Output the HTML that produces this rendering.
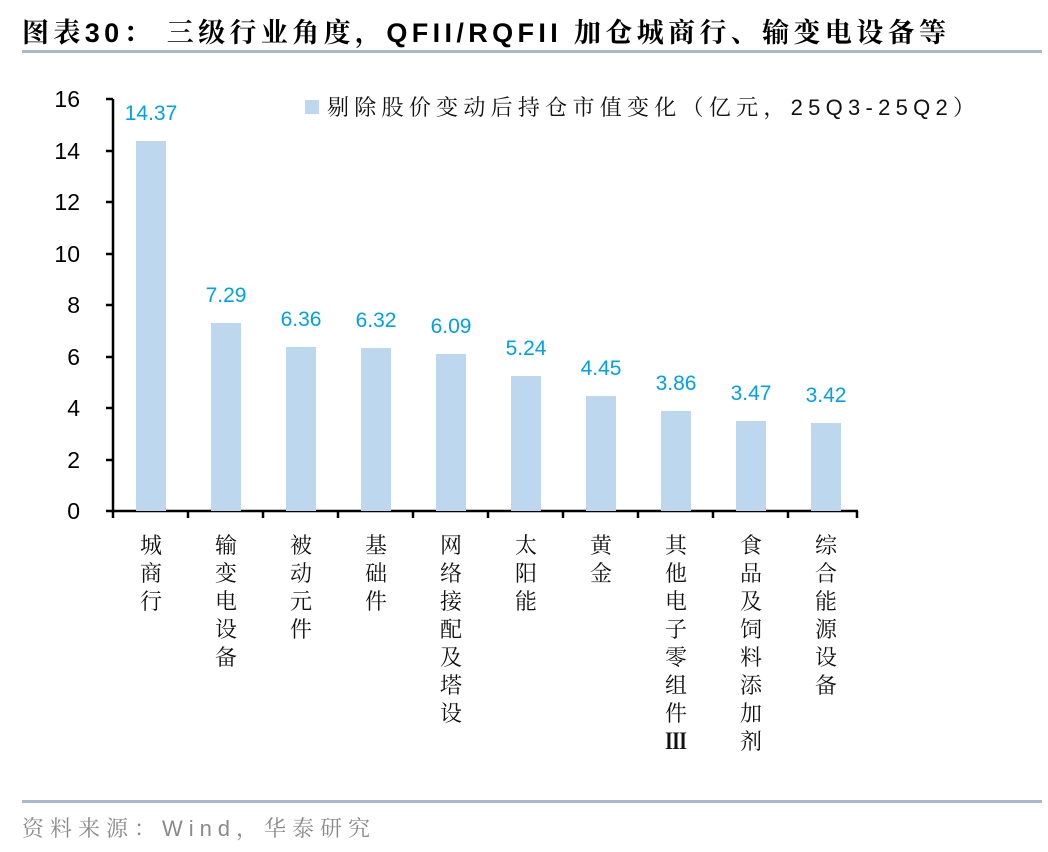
<!DOCTYPE html>
<html><head><meta charset="utf-8"><style>
body{margin:0;background:#fff;}
svg{display:block}
.cj{font-family:"Noto Serif CJK SC","Liberation Serif",serif;font-size:22px;fill:#111}
.num{font-family:"Liberation Sans",sans-serif;font-size:21px}
</style></head><body>
<svg width="1048" height="852" viewBox="0 0 1048 852">
<text x="22" y="42" font-family="Liberation Sans,'Noto Serif CJK SC',serif" font-size="27" font-weight="bold" fill="#000" textLength="924" lengthAdjust="spacing">图表30：  三级行业角度，QFII/RQFII 加仓城商行、输变电设备等</text>
<rect x="22" y="50" width="1020" height="3" fill="#a9b9cc"/>
<rect x="22" y="800" width="1020" height="3" fill="#a9b9cc"/>
<text x="22" y="836" font-family="Liberation Sans,'Noto Serif CJK SC',serif" font-size="22" fill="#8a8a8a" textLength="348" lengthAdjust="spacing">资料来源：Wind，华泰研究</text>
<g font-family="Liberation Sans,sans-serif" font-size="23" fill="#000" text-anchor="end">
<text x="80" y="107">16</text><text x="80" y="159">14</text><text x="80" y="210">12</text><text x="80" y="262">10</text><text x="80" y="313">8</text><text x="80" y="365">6</text><text x="80" y="416">4</text><text x="80" y="468">2</text><text x="80" y="519">0</text>
</g>
<g stroke="#000" stroke-width="2.5" fill="none">
<line x1="113" y1="99" x2="113" y2="512"/>
<line x1="106" y1="99" x2="113" y2="99"/><line x1="106" y1="151" x2="113" y2="151"/><line x1="106" y1="202" x2="113" y2="202"/><line x1="106" y1="254" x2="113" y2="254"/><line x1="106" y1="305" x2="113" y2="305"/><line x1="106" y1="357" x2="113" y2="357"/><line x1="106" y1="408" x2="113" y2="408"/><line x1="106" y1="460" x2="113" y2="460"/>
<line x1="106" y1="511" x2="858" y2="511"/>
<line x1="113" y1="511" x2="113" y2="518"/><line x1="188" y1="511" x2="188" y2="518"/><line x1="263" y1="511" x2="263" y2="518"/><line x1="338" y1="511" x2="338" y2="518"/><line x1="413" y1="511" x2="413" y2="518"/><line x1="488" y1="511" x2="488" y2="518"/><line x1="563" y1="511" x2="563" y2="518"/><line x1="638" y1="511" x2="638" y2="518"/><line x1="713" y1="511" x2="713" y2="518"/><line x1="788" y1="511" x2="788" y2="518"/><line x1="857" y1="511" x2="857" y2="518"/>
</g>
<g fill="#bdd7ee">
<rect x="136" y="141" width="30" height="370"/>
<rect x="211" y="323" width="30" height="188"/>
<rect x="286" y="347" width="30" height="164"/>
<rect x="361" y="348" width="30" height="163"/>
<rect x="436" y="354" width="30" height="157"/>
<rect x="511" y="376" width="30" height="135"/>
<rect x="586" y="396" width="30" height="115"/>
<rect x="661" y="411" width="30" height="100"/>
<rect x="736" y="421" width="30" height="90"/>
<rect x="811" y="423" width="30" height="88"/>
</g>
<g class="num" fill="#00a0e9" text-anchor="middle">
<text x="151" y="120">14.37</text><text x="226" y="302">7.29</text><text x="301" y="326">6.36</text><text x="376" y="327">6.32</text><text x="451" y="333">6.09</text><text x="526" y="355">5.24</text><text x="601" y="375">4.45</text><text x="676" y="390">3.86</text><text x="751" y="400">3.47</text><text x="826" y="402">3.42</text>
</g>
<rect x="305" y="100" width="14" height="14" fill="#bdd7ee"/>
<text x="327" y="115" font-family="Liberation Sans,'Noto Serif CJK SC',serif" font-size="22" fill="#111" textLength="648" lengthAdjust="spacing">剔除股价变动后持仓市值变化（亿元，25Q3-25Q2）</text>
<g class="cj" text-anchor="middle">
<text x="151" y="553"><tspan x="151">城</tspan><tspan x="151" dy="28">商</tspan><tspan x="151" dy="28">行</tspan></text>
<text x="226" y="553"><tspan x="226">输</tspan><tspan x="226" dy="28">变</tspan><tspan x="226" dy="28">电</tspan><tspan x="226" dy="28">设</tspan><tspan x="226" dy="28">备</tspan></text>
<text x="301" y="553"><tspan x="301">被</tspan><tspan x="301" dy="28">动</tspan><tspan x="301" dy="28">元</tspan><tspan x="301" dy="28">件</tspan></text>
<text x="376" y="553"><tspan x="376">基</tspan><tspan x="376" dy="28">础</tspan><tspan x="376" dy="28">件</tspan></text>
<text x="451" y="553"><tspan x="451">网</tspan><tspan x="451" dy="28">络</tspan><tspan x="451" dy="28">接</tspan><tspan x="451" dy="28">配</tspan><tspan x="451" dy="28">及</tspan><tspan x="451" dy="28">塔</tspan><tspan x="451" dy="28">设</tspan></text>
<text x="526" y="553"><tspan x="526">太</tspan><tspan x="526" dy="28">阳</tspan><tspan x="526" dy="28">能</tspan></text>
<text x="601" y="553"><tspan x="601">黄</tspan><tspan x="601" dy="28">金</tspan></text>
<text x="676" y="553"><tspan x="676">其</tspan><tspan x="676" dy="28">他</tspan><tspan x="676" dy="28">电</tspan><tspan x="676" dy="28">子</tspan><tspan x="676" dy="28">零</tspan><tspan x="676" dy="28">组</tspan><tspan x="676" dy="28">件</tspan><tspan x="676" dy="28" font-weight="bold">Ⅲ</tspan></text>
<text x="751" y="553"><tspan x="751">食</tspan><tspan x="751" dy="28">品</tspan><tspan x="751" dy="28">及</tspan><tspan x="751" dy="28">饲</tspan><tspan x="751" dy="28">料</tspan><tspan x="751" dy="28">添</tspan><tspan x="751" dy="28">加</tspan><tspan x="751" dy="28">剂</tspan></text>
<text x="826" y="553"><tspan x="826">综</tspan><tspan x="826" dy="28">合</tspan><tspan x="826" dy="28">能</tspan><tspan x="826" dy="28">源</tspan><tspan x="826" dy="28">设</tspan><tspan x="826" dy="28">备</tspan></text>
</g>
</svg>
</body></html>
